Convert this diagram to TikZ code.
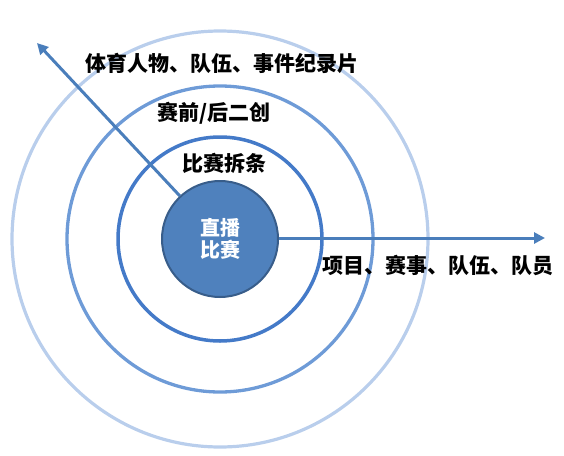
\documentclass[tikz,border=0pt]{standalone}
\usepackage{fontspec}
\newfontfamily\cjk{Noto Sans CJK SC}
\usetikzlibrary{arrows.meta}
\definecolor{ringA}{RGB}{68,122,200}
\definecolor{ringB}{RGB}{110,155,215}
\definecolor{ringC}{RGB}{185,206,236}
\definecolor{corefill}{RGB}{79,129,189}
\definecolor{coreline}{RGB}{56,93,138}
\definecolor{arrowc}{RGB}{74,126,187}
\tikzset{
  ringbase/.style={circle, draw, inner sep=0pt, fill=none},
  ringone/.style={ringbase, draw=ringA, line width=3.5pt, minimum size=204pt},
  ringtwo/.style={ringbase, draw=ringB, line width=3.3pt, minimum size=306pt},
  ringthree/.style={ringbase, draw=ringC, line width=3.2pt, minimum size=416pt},
  core/.style={circle, fill=corefill, draw=coreline, line width=2pt, minimum size=116pt, inner sep=0pt,
    text=white, align=center, font=\cjk\bfseries\fontsize{20}{24}\selectfont},
  lbl/.style={text=black, inner sep=0pt, font=\cjk\bfseries\fontsize{21}{25}\selectfont},
  arr/.style={draw=arrowc, line width=3pt, -{Triangle[length=11pt,width=11pt]}}
}
\begin{document}
\begin{tikzpicture}[x=1pt,y=-1pt]
\useasboundingbox (0,0) rectangle (564,455);
\coordinate (c) at (220,239);
\node[ringthree] (r3) at (c) {};
\node[ringtwo] (r2) at (c) {};
\node[ringone] (r1) at (c) {};
\coordinate (tipR) at (545,238);
\coordinate (tipL) at (37,43);
\node[core] (core) at (c) {直播\\[-2pt]比赛};
\draw[arr] (core.133) -- (tipL);
\draw[arr] (core.east |- tipR) -- (tipR);
\node[lbl] (t1) at (222,63) {体育人物、队伍、事件纪录片};
\node[lbl] (t2) at (214,113) {赛前/后二创};
\node[lbl] (t3) at (224,163) {比赛拆条};
\node[lbl] (t4) at (438,265) {项目、赛事、队伍、队员};
\end{tikzpicture}
\end{document}
